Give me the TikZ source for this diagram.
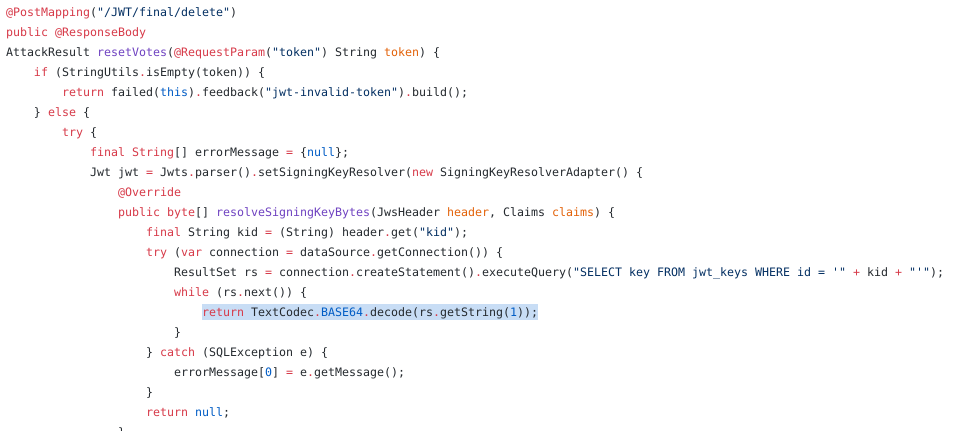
\documentclass[tikz,border=0pt]{standalone}
\usepackage{fontspec}
\newfontfamily\cf{DejaVu Sans Mono}
\definecolor{fg}{HTML}{24292E}
\definecolor{kwc}{HTML}{D73A49}
\definecolor{fnc}{HTML}{6F42C1}
\definecolor{strc}{HTML}{032F62}
\definecolor{parc}{HTML}{E36209}
\definecolor{conc}{HTML}{005CC5}
\definecolor{selc}{HTML}{C8DDF5}
\newcommand\ckw[1]{\textcolor{kwc}{#1}}
\newcommand\cfn[1]{\textcolor{fnc}{#1}}
\newcommand\cstr[1]{\textcolor{strc}{#1}}
\newcommand\cpar[1]{\textcolor{parc}{#1}}
\newcommand\ccon[1]{\textcolor{conc}{#1}}
\newcommand\codeline[4]{\node[codetext] (#1) at ({6+7*#3},{431-16.5-20*#2}) {#4};}
\tikzset{
  codetext/.style={anchor=base west, inner sep=0pt, outer sep=0pt, text=fg,
    font=\cf\fontsize{11.63pt}{20pt}\selectfont},
  selbox/.style={fill=selc, draw=none}
}
\begin{document}
\begin{tikzpicture}[x=1pt,y=1pt]
\useasboundingbox (0,0) rectangle (962,431);
\clip (0,0) rectangle (962,431);
\fill[white] (0,0) rectangle (962,431);
\fill[selbox] (202,111) rectangle (538,127);
\codeline{l0}{0}{0}{\ckw{@PostMapping}(\cstr{"/JWT/final/delete"})}
\codeline{l1}{1}{0}{\ckw{public @ResponseBody}}
\codeline{l2}{2}{0}{AttackResult \cfn{resetVotes}(\ckw{@RequestParam}(\cstr{"token"}) String \cpar{token}) \{}
\codeline{l3}{3}{4}{\ckw{if} (StringUtils\ckw{.}isEmpty(token)) \{}
\codeline{l4}{4}{8}{\ckw{return} failed(\ccon{this})\ckw{.}feedback(\cstr{"jwt-invalid-token"})\ckw{.}build();}
\codeline{l5}{5}{4}{\} \ckw{else} \{}
\codeline{l6}{6}{8}{\ckw{try} \{}
\codeline{l7}{7}{12}{\ckw{final String}[] errorMessage \ckw{=} \{\ccon{null}\};}
\codeline{l8}{8}{12}{Jwt jwt \ckw{=} Jwts\ckw{.}parser()\ckw{.}setSigningKeyResolver(\ckw{new} SigningKeyResolverAdapter() \{}
\codeline{l9}{9}{16}{\ckw{@Override}}
\codeline{l10}{10}{16}{\ckw{public byte}[] \cfn{resolveSigningKeyBytes}(JwsHeader \cpar{header}, Claims \cpar{claims}) \{}
\codeline{l11}{11}{20}{\ckw{final} String kid \ckw{=} (String) header\ckw{.}get(\cstr{"kid"});}
\codeline{l12}{12}{20}{\ckw{try} (\ckw{var} connection \ckw{=} dataSource\ckw{.}getConnection()) \{}
\codeline{l13}{13}{24}{ResultSet rs \ckw{=} connection\ckw{.}createStatement()\ckw{.}executeQuery(\cstr{"SELECT key FROM jwt\_keys WHERE id = '"} \ckw{+} kid \ckw{+} \cstr{"'"});}
\codeline{l14}{14}{24}{\ckw{while} (rs\ckw{.}next()) \{}
\codeline{l15}{15}{28}{\ckw{return} TextCodec\ckw{.}\ccon{BASE64}\ckw{.}decode(rs\ckw{.}getString(\ccon{1}));}
\codeline{l16}{16}{24}{\}}
\codeline{l17}{17}{20}{\} \ckw{catch} (SQLException e) \{}
\codeline{l18}{18}{24}{errorMessage[\ccon{0}] \ckw{=} e\ckw{.}getMessage();}
\codeline{l19}{19}{20}{\}}
\codeline{l20}{20}{20}{\ckw{return} \ccon{null};}
\codeline{l21}{21}{16}{\}}
\end{tikzpicture}
\end{document}
